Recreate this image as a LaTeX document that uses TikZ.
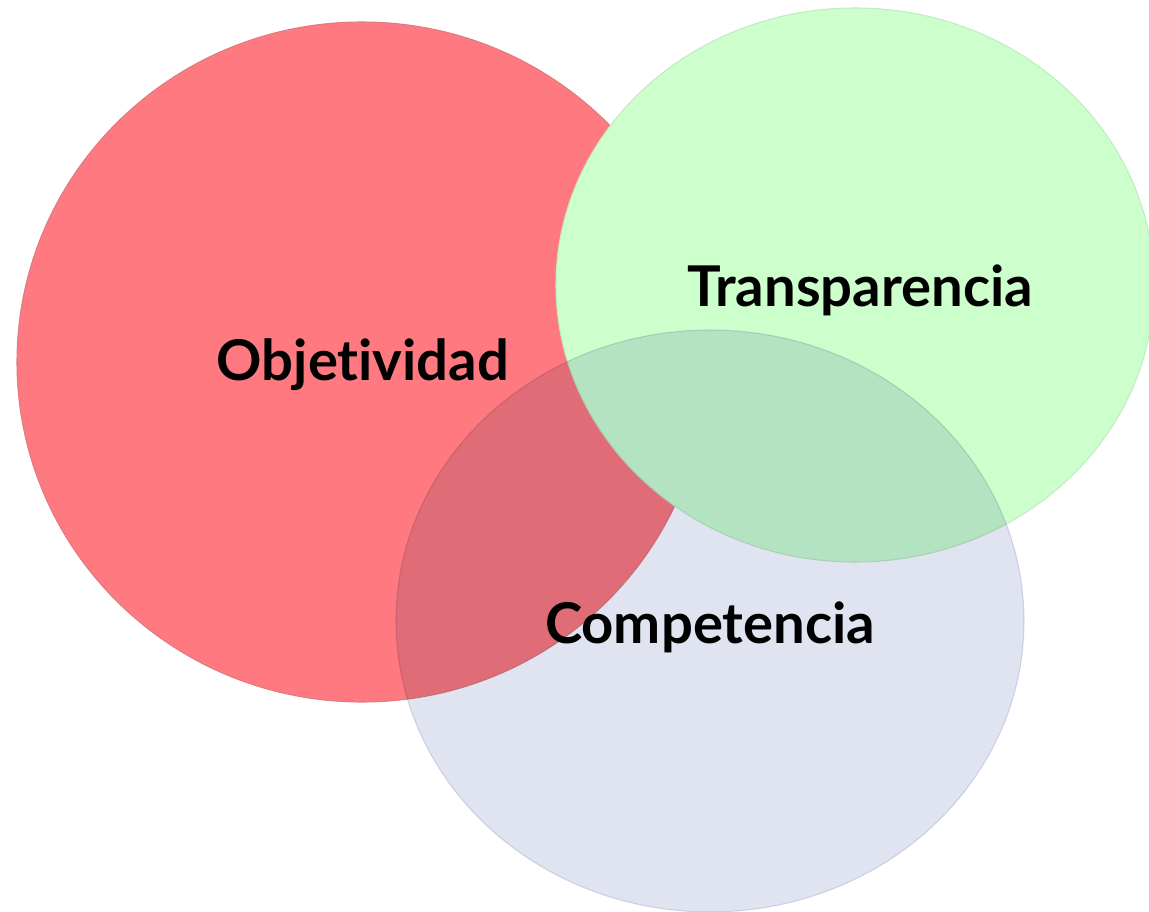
\documentclass[tikz,border=0pt]{standalone}
\usepackage{fontspec}
\setmainfont{Lato}[Ligatures={NoCommon}]
\usetikzlibrary{positioning}

\begin{document}
\begin{tikzpicture}[x=0.02cm,y=-0.02cm,
    circulo/.style={line width=0.6pt},
    etiqueta/.style={font=\fontsize{32}{36}\selectfont\bfseries, text=black}]
        %marco
        \useasboundingbox (0,0) rectangle (1149,912);
        \clip (0,0) rectangle (1149,912);
        %colores
        \definecolor{rojo}{RGB}{255,122,128}
        \definecolor{verde}{RGB}{204,255,204}
        \definecolor{lila}{RGB}{224,227,240}
        %circulos
        \draw [circulo, fill=rojo, draw=rojo!75!gray] (362,362) ellipse [x radius=345, y radius=340];
        \draw [circulo, fill=verde, draw=verde!85!gray] (855,285) ellipse [x radius=299, y radius=277];
        \begin{scope}[blend mode=multiply]
            \draw [circulo, fill=lila, draw=lila!96!gray] (710,621) ellipse [x radius=314, y radius=291];
        \end{scope}
        %textos
        \node [etiqueta] (obj) at (363,365) {Objetividad};
        \node [etiqueta] (tra) at (860,290) {Transparencia};
        \node [etiqueta] (com) at (710,627) {Competencia};
    \end{tikzpicture}
\end{document}
